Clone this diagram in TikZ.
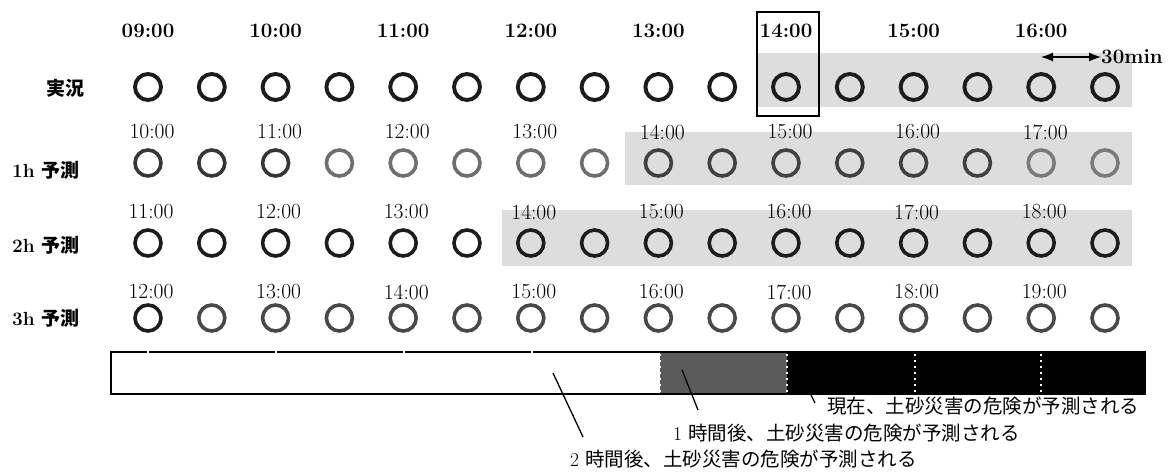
\documentclass[tikz,border=0pt]{standalone}
\usepackage{fontspec}
\newfontfamily\jp{Noto Sans CJK JP}
\usetikzlibrary{arrows.meta}
\definecolor{bggray}{HTML}{DDDDDD}
\definecolor{midgray}{HTML}{5A5A5A}
\definecolor{ringA}{HTML}{1C1C1C}
\definecolor{ringB}{HTML}{363636}
\definecolor{ringC}{HTML}{6E6E6E}
\definecolor{ringD}{HTML}{404040}
\definecolor{ringE}{HTML}{7A7A7A}
\definecolor{ringF}{HTML}{484848}
\begin{document}
\begin{tikzpicture}[x=1pt,y=-1pt,
  ring/.style={circle, draw, line width=3.6pt, minimum size=26pt, inner sep=0pt},
  tbold/.style={font=\fontsize{20.5}{22}\selectfont\bfseries, inner sep=0pt},
  treg/.style={font=\fontsize{21.5}{23}\selectfont, inner sep=0pt},
  rowlab/.style={font=\fontsize{19}{20}\selectfont\bfseries, anchor=west, inner sep=0pt},
  note/.style={font=\fontsize{19.5}{21}\selectfont, anchor=west, inner sep=0pt},
  pointer/.style={line width=1.3pt}
]
\useasboundingbox (0,0) rectangle (1172,472);

% gray backgrounds
\fill[bggray] (757,53) rectangle (1132,107);
\fill[bggray] (625,132) rectangle (1132,185);
\fill[bggray] (502,210) rectangle (1132,266);

% highlight box
\draw[line width=1.6pt] (757,12) rectangle (819,116);

% row labels
\node[font=\jp\fontsize{19}{20}\selectfont\bfseries, inner sep=0pt] (l0) at (65,88) {実況};
\node[rowlab] (l1) at (12,170) {1h {\jp 予測}};
\node[rowlab] (l2) at (12,245) {2h {\jp 予測}};
\node[rowlab] (l3) at (12,318) {3h {\jp 予測}};

% time labels
\foreach \i/\t in {0/09,1/10,2/11,3/12,4/13,5/14,6/15,7/16}{
  \pgfmathsetmacro\xx{148+127.6*\i}
  \node[tbold] (ta\i) at (\xx,31) {\t:00};
}
\foreach \i/\t in {0/10,1/11,2/12,3/13,4/14,5/15,6/16,7/17}{
  \pgfmathsetmacro\xx{152+127.6*\i}
  \node[treg] (tb\i) at (\xx,132) {\t:00};
}
\foreach \i/\t in {0/11,1/12,2/13,3/14,4/15,5/16,6/17,7/18}{
  \pgfmathsetmacro\xx{151+127.6*\i}
  \node[treg] (tc\i) at (\xx,212) {\t:00};
}
\foreach \i/\t in {0/12,1/13,2/14,3/15,4/16,5/17,6/18,7/19}{
  \pgfmathsetmacro\xx{151+127.6*\i}
  \node[treg] (td\i) at (\xx,292) {\t:00};
}

% rings
\foreach \i in {0,...,15}{
  \pgfmathsetmacro\xx{148+63.8*\i}
  \node[ring, draw=ringA, line width=3.9pt] (ra\i) at (\xx,87) {};
  \node[ring, draw=ringA] (rc\i) at (\xx,243) {};
}
\foreach \i/\c in {0/ringB,1/ringB,2/ringB,3/ringC,4/ringC,5/ringC,6/ringC,7/ringC,
  8/ringD,9/ringD,10/ringD,11/ringD,12/ringD,13/ringD,14/ringE,15/ringE}{
  \pgfmathsetmacro\xx{148+63.8*\i}
  \node[ring, draw=\c] (rb\i) at (\xx,163) {};
}
\foreach \i in {0,...,15}{
  \pgfmathsetmacro\xx{148+63.8*\i}
  \ifnum\i=0
    \node[ring, draw=ringA] (rd\i) at (\xx,318) {};
  \else
    \node[ring, draw=ringF] (rd\i) at (\xx,318) {};
  \fi
}

% 30min arrow
\coordinate (m1) at (1041,57);
\node[tbold, anchor=west] (m30) at (1101,57) {30min};
\draw[{Latex[length=12pt,width=9pt]}-{Latex[length=12pt,width=9pt]}, line width=1.2pt] (m1) -- (m30.west);

% bar
\fill[white] (111,352) rectangle (660,394);
\fill[midgray] (660,352) rectangle (787,394);
\fill[black] (787,352) rectangle (1145,394);
\draw[line width=1.8pt] (111,352) rectangle (1145,394);
\foreach \x in {148,276,404,532}{
  \draw[white, line width=2.5pt] (\x,349) -- (\x,355);
}
\foreach \x in {660,787,915,1041}{
  \draw[white, line width=2.4pt, dash pattern=on 2.4pt off 3.6pt] (\x,354) -- (\x,393);
}

% annotations
\node[note] (n0) at (827,406) {{\jp 現在、土砂災害の危険が予測される}};
\node[note] (n1) at (673,433) {1 {\jp 時間後、土砂災害の危険が予測される}};
\node[note] (n2) at (570,459) {2 {\jp 時間後、土砂災害の危険が予測される}};
\coordinate (p0a) at (809,391);
\coordinate (p0b) at (815,403);
\coordinate (p1a) at (682,370);
\coordinate (p1b) at (698,410);
\coordinate (p2a) at (553,373);
\coordinate (p2b) at (583,437);
\draw[pointer] (p0a) -- (p0b);
\draw[pointer] (p1a) -- (p1b);
\draw[pointer] (p2a) -- (p2b);
\end{tikzpicture}
\end{document}
